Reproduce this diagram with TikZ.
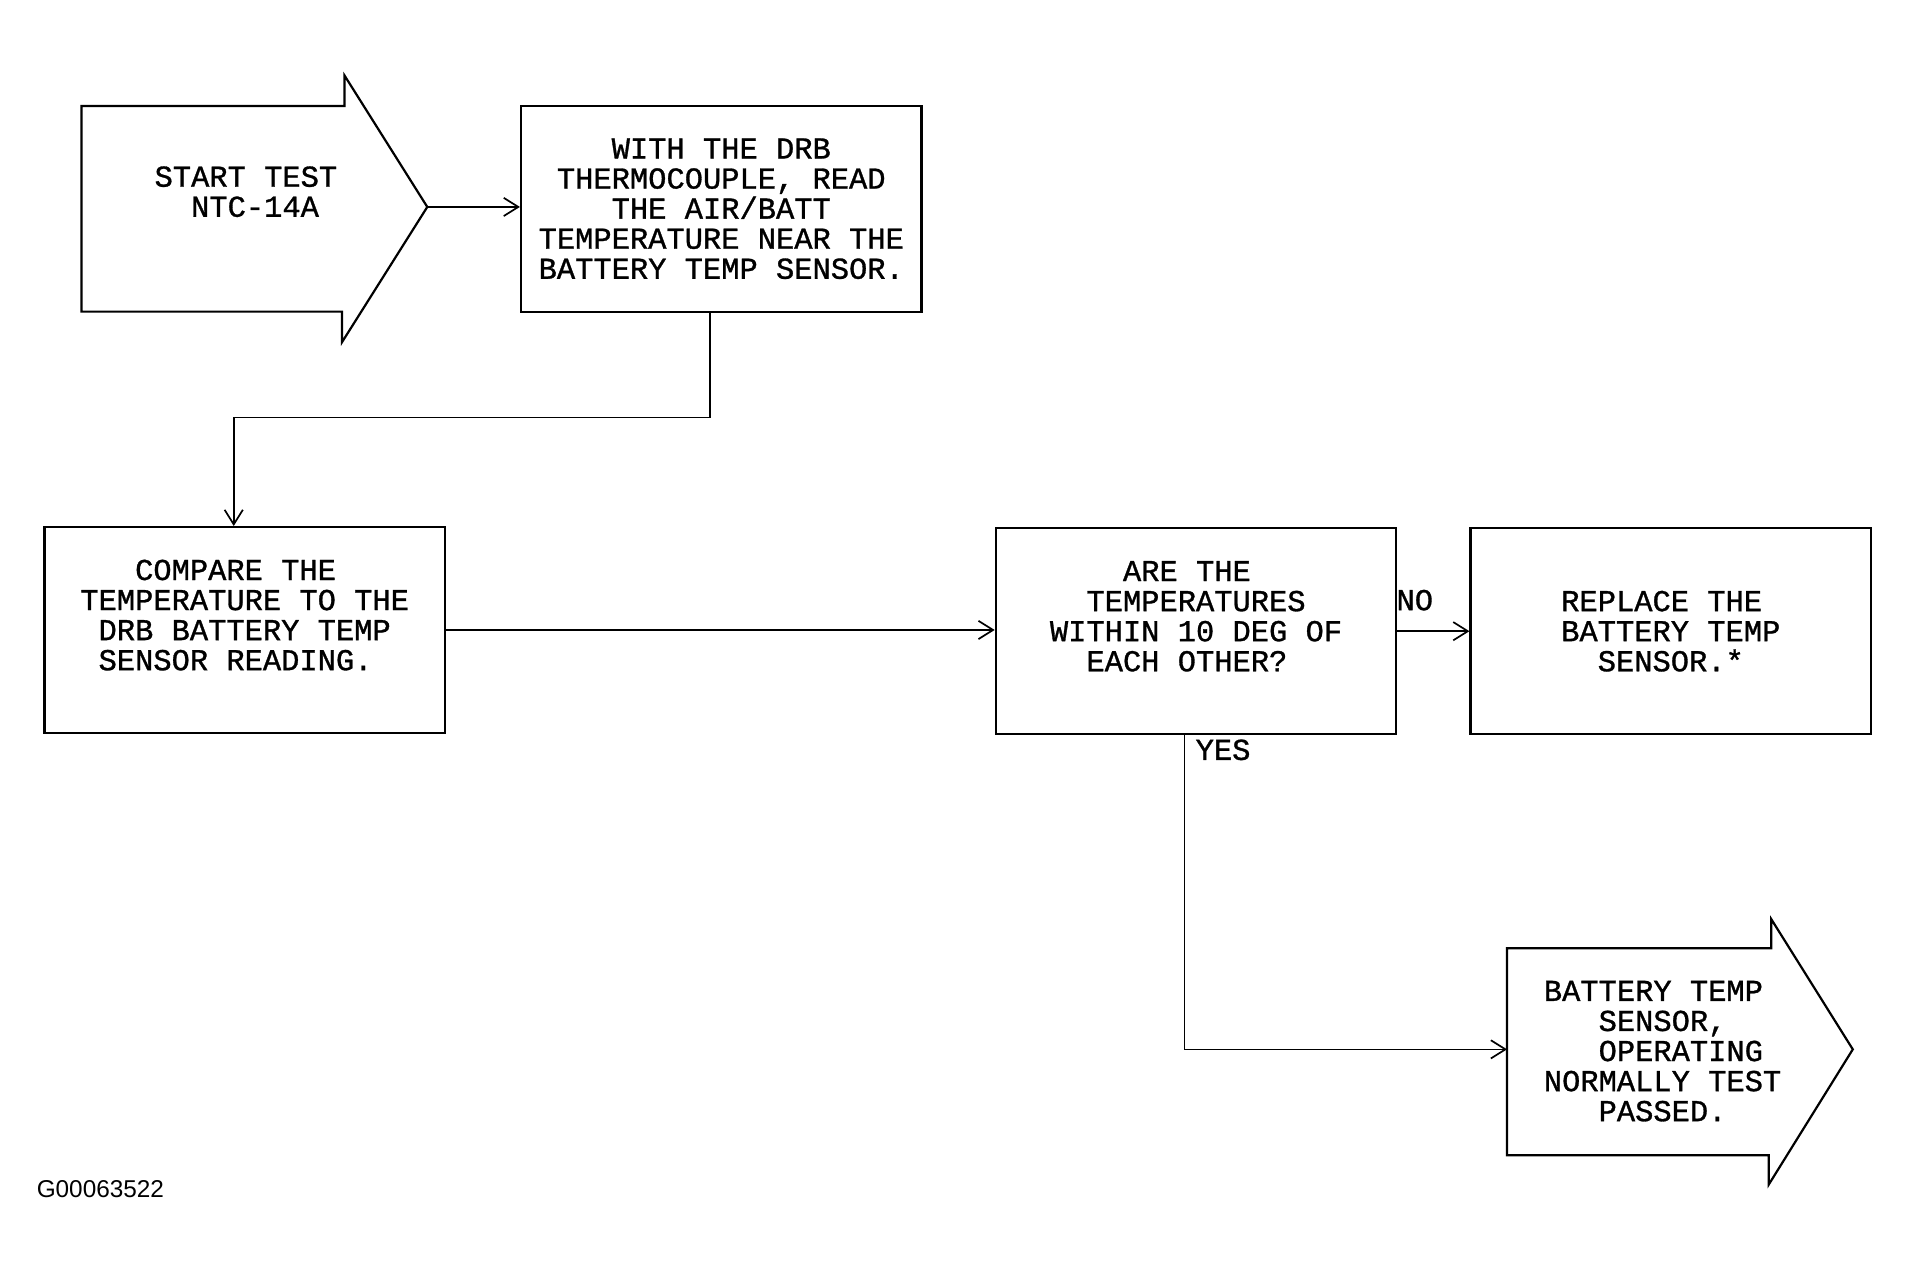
\documentclass[tikz,border=0pt]{standalone}
\usepackage{fontspec}
\setmonofont{Liberation Mono}[FakeBold=1]
\newfontfamily\codefont{Liberation Sans}
\usetikzlibrary{arrows.meta}

\tikzset{
  box/.style={draw,line width=1.8pt,minimum width=329pt,minimum height=169pt,
    inner sep=0pt,align=center,font=\ttfamily\fontsize{25}{24.7}\selectfont},
  words/.style={inner sep=0pt,font=\ttfamily\fontsize{25}{24.7}\selectfont},
  flow/.style={line width=1.4pt,-{Straight Barb[length=12pt,width=15pt,line width=1.4pt]}}
}
\newcommand{\pad}{\hphantom{X}}

\begin{document}
\begin{tikzpicture}[x=1pt,y=-1pt]

      \useasboundingbox (0,0) rectangle (1569,1046.6);

      % arrow shaped start and end
      \draw[line width=1.8pt] (67,87) -- (283,87) -- (283,62) -- (351,170) coordinate (starttip)
        -- (281,281) -- (281,256) -- (67,256) -- cycle;
      \draw[line width=1.8pt] (1238,779) -- (1455,779) -- (1455,755) -- (1522,862)
        -- (1453,973) -- (1453,949) -- (1238,949) -- cycle;
      \coordinate (passin) at (1238,862);

      \begin{scope}[every node/.style={words}]
        \node[align=center] (start) at (202,157.5) {START TEST\\\pad NTC-14A};
        \node[align=left,anchor=west] (pass) at (1268,863.5)
          {BATTERY TEMP\\\pad\pad\pad SENSOR,\\\pad\pad\pad OPERATING\\NORMALLY TEST\\\pad\pad\pad PASSED.};
        \node[anchor=west] (no) at (1147,493) {NO};
        \node[anchor=west] (yes) at (982,616) {YES};
      \end{scope}

      \begin{scope}[every node/.style={box}]
        \node (read) at (592.5,171.5) {WITH THE DRB\\THERMOCOUPLE, READ\\THE AIR/BATT\\TEMPERATURE NEAR THE\\BATTERY TEMP SENSOR.};
        \node (compare) at (201,517.5) {COMPARE THE\pad\\TEMPERATURE TO THE\\DRB BATTERY TEMP\\SENSOR READING.\pad\\\mbox{}};
        \node (check) at (982.5,518.5) {ARE THE\pad\\TEMPERATURES\\WITHIN 10 DEG OF\\EACH OTHER?\pad\\\mbox{}};
        \node (replace) at (1372.5,518.5) {REPLACE THE\pad\\BATTERY TEMP\\SENSOR.*};
      \end{scope}

      \coordinate (bend) at (192,343);

      \begin{scope}[every path/.style={flow}]
        \draw (starttip) -- (starttip -| read.west);
        \draw ([xshift=-9.5pt]read.south) |- (bend) -- (bend |- compare.north);
        \draw (compare.east) -- (compare.east -| check.west);
        \draw (check.east) -- (replace.west);
        \draw ([xshift=-9.5pt]check.south) |- (passin);
      \end{scope}

      \node[anchor=west,inner sep=0pt,font=\codefont\fontsize{20}{24}\selectfont] (code) at (30,977) {G00063522};

\end{tikzpicture}
\end{document}
